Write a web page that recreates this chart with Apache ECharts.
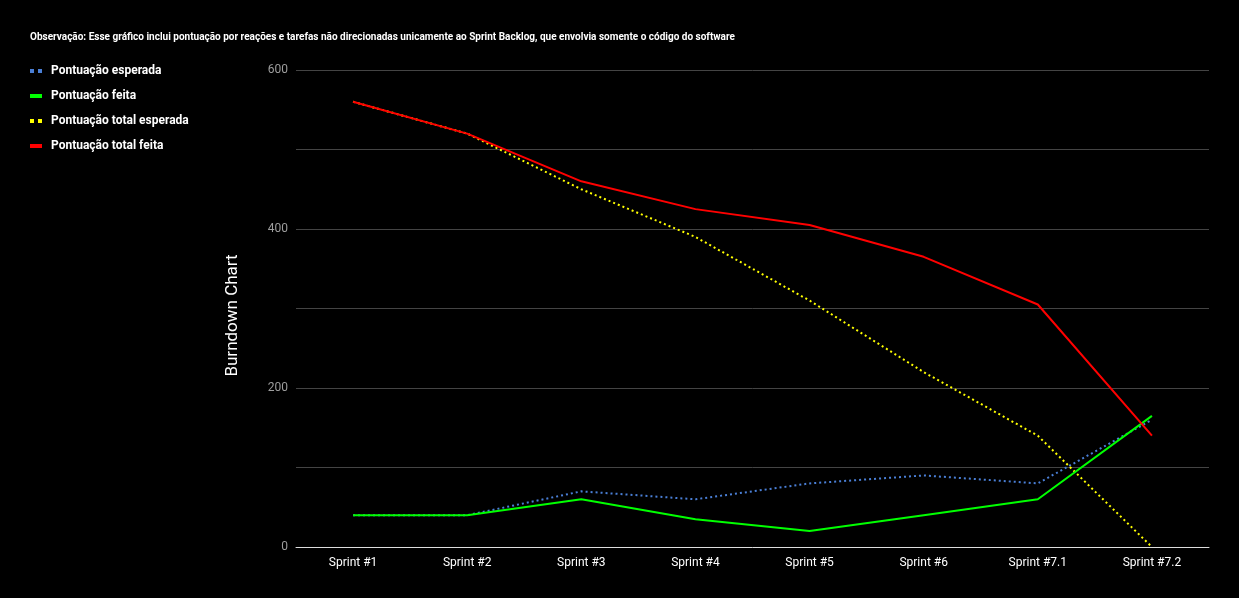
<!DOCTYPE html>
<html><head><meta charset="utf-8">
<script src="https://cdn.jsdelivr.net/npm/echarts@6/dist/echarts.min.js"></script>
<style>html,body{margin:0;padding:0;background:#000}#c{width:1239px;height:598px}</style>
</head><body><div id="c"></div>
<script>
const categories = ['Sprint #1','Sprint #2','Sprint #3','Sprint #4','Sprint #5','Sprint #6','Sprint #7.1','Sprint #7.2'];
const pontuacaoEsperada = [40, 40, 70, 60, 80, 90, 80, 160];
const pontuacaoFeita = [40, 40, 60, 35, 20, 40, 60, 165];
const pontuacaoTotalEsperada = [560, 520, 450, 390, 310, 220, 140, 0];
const pontuacaoTotalFeita = [560, 520, 460, 425, 405, 365, 305, 140];
const yTicks = [0, 100, 200, 300, 400, 500, 600];

const dotted = 'path://M0,0h4v4h-4z M8,0h4v4h-4z';
const chart = echarts.init(document.getElementById('c'));
chart.setOption({
  backgroundColor: '#000',
  textStyle: {fontFamily: 'Roboto'},
  title: {
    text: 'Observação: Esse gráfico inclui pontuação por reações e tarefas não direcionadas unicamente ao Sprint Backlog, que envolvia somente o código do software',
    left: 30, top: 32, padding: 0,
    textStyle: {color: '#fff', fontSize: 10, fontWeight: 'bold', fontFamily: 'Roboto'}
  },
  legend: {
    orient: 'vertical', left: 30, top: 65, padding: 0, itemGap: 13, itemWidth: 12, itemHeight: 4,
    textStyle: {color: '#fff', fontSize: 12, fontWeight: 'bold', padding: [0, 0, 0, 4]},
    data: [
      {name: 'Pontuação esperada', icon: dotted},
      {name: 'Pontuação feita', icon: 'rect'},
      {name: 'Pontuação total esperada', icon: dotted},
      {name: 'Pontuação total feita', icon: 'rect'}
    ]
  },
  grid: {left: 296, right: 30, top: 70, bottom: 51, containLabel: false},
  xAxis: {
    type: 'category', data: categories, boundaryGap: true,
    axisLine: {lineStyle: {color: '#ddd', width: 1}},
    axisTick: {show: false},
    axisLabel: {color: '#fff', fontSize: 12, margin: 10}
  },
  yAxis: {
    type: 'value', min: 0, max: 600, interval: 100,
    name: 'Burndown Chart', nameLocation: 'middle', nameGap: 55, nameRotate: 90,
    nameTextStyle: {color: '#fff', fontSize: 17, padding: [0, 14, 0, 0]},
    axisLine: {show: false}, axisTick: {show: false},
    axisLabel: {color: '#9e9e9e', fontSize: 12, margin: 8,
      formatter: v => (v % 200 === 0 ? String(v) : '')},
    splitLine: {lineStyle: {color: '#444', width: 1}}
  },
  series: [
    {name: 'Pontuação esperada', type: 'line', data: pontuacaoEsperada, showSymbol: false, symbol: 'none',
      lineStyle: {color: '#4a7fd6', width: 2, type: [2, 3]}, itemStyle: {color: '#4a7fd6'}, z: 2},
    {name: 'Pontuação feita', type: 'line', data: pontuacaoFeita, showSymbol: false, symbol: 'none',
      lineStyle: {color: '#00ff00', width: 2}, itemStyle: {color: '#00ff00'}, z: 3},
    {name: 'Pontuação total esperada', type: 'line', data: pontuacaoTotalEsperada, showSymbol: false, symbol: 'none',
      lineStyle: {color: '#ffff00', width: 2, type: [2, 3]}, itemStyle: {color: '#ffff00'}, z: 2},
    {name: 'Pontuação total feita', type: 'line', data: pontuacaoTotalFeita, showSymbol: false, symbol: 'none',
      lineStyle: {color: '#ff0000', width: 2}, itemStyle: {color: '#ff0000'}, z: 3}
  ]
});
</script></body></html>
